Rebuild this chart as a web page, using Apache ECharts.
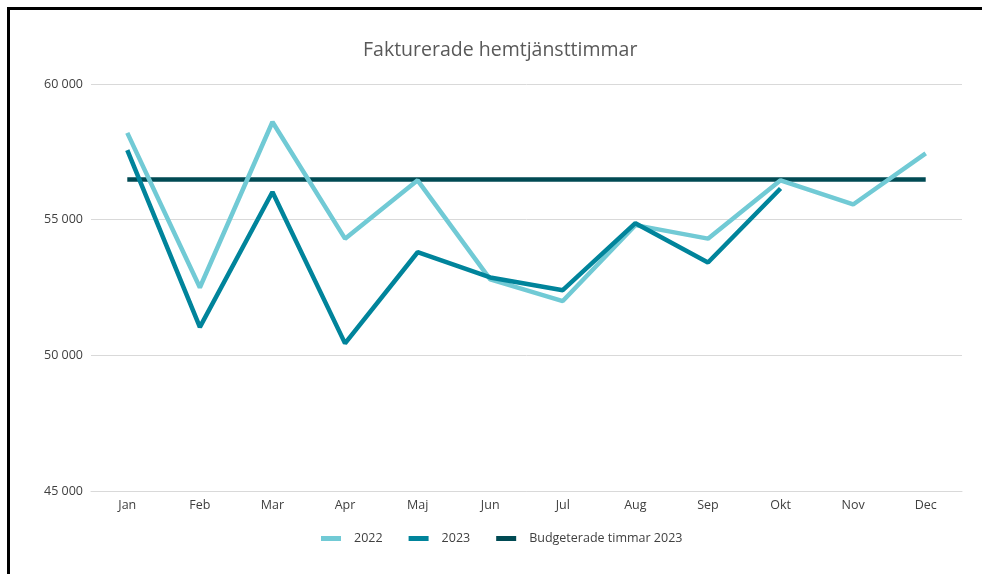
<!DOCTYPE html>
<html>
<head>
<meta charset="utf-8">
<script src="https://cdn.jsdelivr.net/npm/echarts@6/dist/echarts.min.js"></script>
<style>html,body{margin:0;padding:0;background:#fff}#c{width:982px;height:574px}</style>
</head>
<body>
<div id="c"></div>
<script>
const months = ['Jan','Feb','Mar','Apr','Maj','Jun','Jul','Aug','Sep','Okt','Nov','Dec'];
const values2022 = [58200, 52500, 58600, 54300, 56450, 52800, 52000, 54800, 54300, 56450, 55560, 57440];
const values2023 = [57560, 51040, 56020, 50440, 53800, 52870, 52400, 54870, 53420, 56150, null, null];
const budget2023 = [56480, 56480, 56480, 56480, 56480, 56480, 56480, 56480, 56480, 56480, 56480, 56480];
const yTicks = [45000, 50000, 55000, 60000];

const chart = echarts.init(document.getElementById('c'));
const fmt = v => String(v).replace(/\B(?=(\d{3})+(?!\d))/g, ' ');
const ff = '"Open Sans", "Noto Sans", sans-serif';
chart.setOption({
  animation: false,
  graphic: [
    {type:'line', shape:{x1:8, y1:8.5, x2:982, y2:8.5}, style:{stroke:'#000', lineWidth:3}},
    {type:'line', shape:{x1:8.5, y1:7, x2:8.5, y2:574}, style:{stroke:'#000', lineWidth:3}}
  ],
  title: {
    text: 'Fakturerade hemtjänsttimmar',
    left: 358, top: 35,
    textStyle: {fontFamily: ff, fontSize: 19.5, fontWeight: 'normal', color: '#595959'}
  },
  legend: {
    bottom: 24, left: 316,
    icon: 'rect', itemWidth: 20, itemHeight: 5, itemGap: 26,
    textStyle: {fontFamily: ff, fontSize: 12.5, color: '#404040', padding: [0,0,0,8]},
    data: ['2022','2023','Budgeterade timmar 2023']
  },
  grid: {left: 91, right: 20, top: 84, bottom: 83, containLabel: false},
  xAxis: {
    type: 'category', data: months, boundaryGap: true,
    axisLine: {show: true, lineStyle: {color: '#d9d9d9'}},
    axisTick: {show: false},
    axisLabel: {fontFamily: ff, fontSize: 12.5, color: '#404040', margin: 8}
  },
  yAxis: {
    type: 'value', min: yTicks[0], max: yTicks[yTicks.length-1], interval: 5000,
    axisLine: {show: false}, axisTick: {show: false},
    splitLine: {lineStyle: {color: '#d9d9d9', width: 1}},
    axisLabel: {fontFamily: ff, fontSize: 12.5, color: '#404040', margin: 8, formatter: fmt}
  },
  series: [
    {name: '2022', type: 'line', data: values2022, symbol: 'none', lineStyle: {width: 4.5, color: '#71CAD5'}, itemStyle: {color: '#71CAD5'}, z: 2},
    {name: '2023', type: 'line', data: values2023, symbol: 'none', lineStyle: {width: 4.5, color: '#00849B'}, itemStyle: {color: '#00849B'}, z: 3},
    {name: 'Budgeterade timmar 2023', type: 'line', data: budget2023, symbol: 'none', lineStyle: {width: 4.5, color: '#004A53'}, itemStyle: {color: '#004A53'}, z: 1}
  ]
});
</script>
</body>
</html>
